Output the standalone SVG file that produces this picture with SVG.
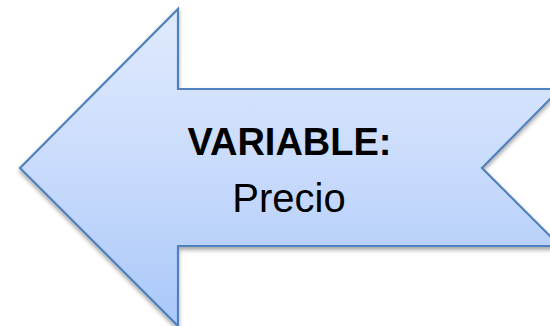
<svg xmlns="http://www.w3.org/2000/svg" width="550" height="326" viewBox="0 0 550 326">
<defs>
<linearGradient id="g" x1="0" y1="0" x2="0" y2="1">
<stop offset="0" stop-color="#e0eafc"/>
<stop offset="0.5" stop-color="#c9dbfc"/>
<stop offset="1" stop-color="#a9c8f8"/>
</linearGradient>
<filter id="sh" x="-10%" y="-10%" width="120%" height="120%">
<feGaussianBlur in="SourceAlpha" stdDeviation="2"/>
<feOffset dx="0" dy="3" result="b"/>
<feComponentTransfer><feFuncA type="linear" slope="0.35"/></feComponentTransfer>
<feMerge><feMergeNode/><feMergeNode in="SourceGraphic"/></feMerge>
</filter>
<style>
.t{font-family:"Liberation Sans",Arial,sans-serif;fill:#000;text-anchor:middle}
</style>
</defs>
<g id="arrow">
<path d="M20,168 L178,9 L178,89 L560,89 L482,168 L560,246 L178,246 L178,326 Z" fill="url(#g)" stroke="#4f81bd" stroke-width="2.2" stroke-linejoin="miter" filter="url(#sh)"/>
<text class="t" x="289.5" y="155" font-size="38" font-weight="bold">VARIABLE:</text>
<text class="t" x="289" y="212" font-size="40">Precio</text>
</g>
</svg>
